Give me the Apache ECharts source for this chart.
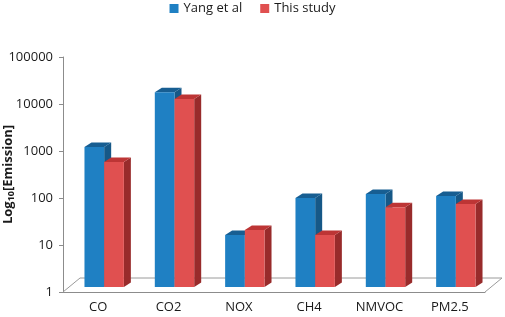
<!DOCTYPE html>
<html>
<head>
<meta charset="utf-8">
<script src="https://cdn.jsdelivr.net/npm/echarts@6/dist/echarts.min.js"></script>
<style>
    html, body { margin: 0; padding: 0; background: #fff; }
    #chart { width: 505px; height: 317px; }
</style>
</head>
<body>
<div id="chart"></div>
<script>
    // categories and values
    const categories = ['CO', 'CO2', 'NOX', 'CH4', 'NMVOC', 'PM2.5'];
    const yangValues = [950, 14000, 12.8, 78, 95, 86];
    const studyValues = [456, 10000, 16.3, 12.8, 50, 58];
    const seriesNames = ['Yang et al', 'This study'];

    const colors = [
        { front: '#1f80c3', top: '#175e92', side: '#165887' },
        { front: '#e05050', top: '#bd3535', side: '#982b2b' }
    ];

    // depth offsets for the fake 3d look
    const shift = [6, -5];
    const depth = [7, -4.5];

    function barRenderer(idx) {
        return function (params, api) {
            const ci = api.value(0);
            const v = api.value(1);
            const base = api.coord([ci, 1]);
            const top = api.coord([ci, v]);
            const band = api.size([1, 0])[0];
            const w = band * 0.28;
            const x0 = base[0] + (idx === 0 ? -w : 0) + shift[0];
            const yb = base[1] + shift[1];
            const yt = top[1] + shift[1];
            const c = colors[idx];
            return {
                type: 'group',
                children: [
                    {
                        type: 'polygon',
                        shape: { points: [[x0 + w, yt], [x0 + w + depth[0], yt + depth[1]], [x0 + w + depth[0], yb + depth[1]], [x0 + w, yb]] },
                        style: { fill: c.side }
                    },
                    {
                        type: 'polygon',
                        shape: { points: [[x0, yt], [x0 + w, yt], [x0 + w + depth[0], yt + depth[1]], [x0 + depth[0], yt + depth[1]]] },
                        style: { fill: c.top }
                    },
                    {
                        type: 'rect',
                        shape: { x: x0, y: yt, width: w, height: yb - yt },
                        style: { fill: c.front }
                    }
                ]
            };
        };
    }

    function floorRenderer(params, api) {
        const cs = params.coordSys;
        const yb = cs.y + cs.height;
        return {
            type: 'polyline',
            silent: true,
            shape: { points: [[cs.x, yb], [cs.x + 17, yb - 14], [cs.x + cs.width + 17, yb - 14], [cs.x + cs.width, yb]] },
            style: { stroke: '#9a9a9a', lineWidth: 1, fill: null }
        };
    }

    const chart = echarts.init(document.getElementById('chart'));
    const opt = {
        animation: false,
        textStyle: { fontFamily: 'Open Sans' },
        legend: {
            top: -3,
            left: 'center',
            icon: 'rect',
            itemWidth: 9,
            itemHeight: 9,
            itemGap: 18,
            data: seriesNames,
            textStyle: { fontSize: 13, color: '#1a1a1a', fontFamily: 'Open Sans' }
        },
        grid: { left: 63, right: 20, top: 57, bottom: 25, containLabel: false, outerBoundsMode: 'none' },
        xAxis: {
            type: 'category',
            data: categories,
            axisLine: { lineStyle: { color: '#8c8c8c' } },
            axisTick: { length: 4, lineStyle: { color: '#8c8c8c' } },
            axisLabel: { fontSize: 13, color: '#1a1a1a', margin: 9 }
        },
        yAxis: {
            type: 'log',
            logBase: 10,
            min: 1,
            max: 100000,
            name: '{a|Log}{b|10}{a|[Emission]}',
            nameLocation: 'middle',
            nameGap: 47,
            nameMoveOverlap: false,
            nameTextStyle: {
                rich: {
                    a: { fontSize: 13, fontWeight: 'bold', color: '#1a1a1a', fontFamily: 'Open Sans' },
                    b: { fontSize: 9, fontWeight: 'bold', color: '#1a1a1a', fontFamily: 'Open Sans', padding: [6, 0, 0, 0] }
                }
            },
            splitLine: { show: false },
            axisLine: { show: true, lineStyle: { color: '#8c8c8c' } },
            axisTick: { show: true, length: 4, lineStyle: { color: '#8c8c8c' } },
            axisLabel: { fontSize: 13, color: '#1a1a1a', margin: 10, formatter: v => String(v) }
        },
        series: [
            {
                type: 'custom',
                name: 'floor',
                renderItem: floorRenderer,
                data: [[0, 1]],
                silent: true,
                z: 1
            },
            {
                type: 'custom',
                name: seriesNames[0],
                itemStyle: { color: colors[0].front },
                renderItem: barRenderer(0),
                encode: { x: 0, y: 1 },
                data: yangValues.map((v, i) => [i, v]),
                z: 2
            },
            {
                type: 'custom',
                name: seriesNames[1],
                itemStyle: { color: colors[1].front },
                renderItem: barRenderer(1),
                encode: { x: 0, y: 1 },
                data: studyValues.map((v, i) => [i, v]),
                z: 3
            }
        ]
    };
    chart.setOption(opt);
</script>
</body>
</html>
